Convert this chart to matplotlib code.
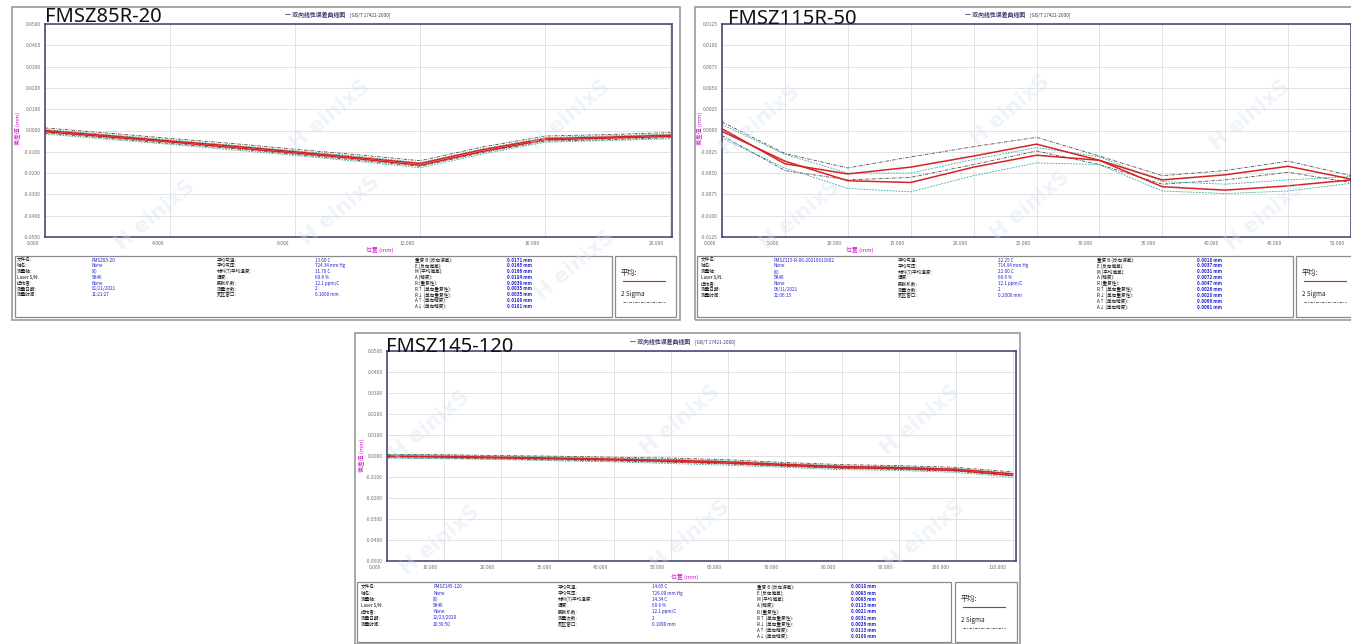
import matplotlib
matplotlib.use('Agg')
import matplotlib.pyplot as plt
from matplotlib.patches import Rectangle
from matplotlib.lines import Line2D
from matplotlib.transforms import ScaledTranslation

plt.rcParams['font.family'] = ['Noto Sans CJK SC', 'DejaVu Sans']

W, H = 1351, 644
fig = plt.figure(figsize=(W / 100, H / 100), dpi=100)
fig.patch.set_facecolor('white')


def fx(px):
    return px / W


def fy(py):
    return 1 - py / H


# ---------------- data ----------------
names = ['FMSZ85R-20', 'FMSZ115R-50', 'FMSZ145-120']
chart_title = '一 双向线性误差曲线图'
chart_std = '[GB/T 17421-2000]'
x_label = '位置 (mm)'
y_label = '偏差值 (mm)'

# chart 1
x1 = [0, 2, 4, 6, 8, 10, 12, 14, 16, 18, 20]
fwd1 = [0.0000, -0.0024, -0.0049, -0.0073, -0.0100, -0.0127, -0.0155, -0.0090, -0.0038, -0.0031, -0.0022]
rev1 = [-0.0006, -0.0030, -0.0054, -0.0080, -0.0106, -0.0133, -0.0163, -0.0098, -0.0044, -0.0036, -0.0028]
fwd1_hi = [0.0012, -0.0012, -0.0037, -0.0061, -0.0088, -0.0114, -0.0142, -0.0077, -0.0026, -0.0019, -0.0010]
fwd1_lo = [-0.0012, -0.0036, -0.0061, -0.0085, -0.0112, -0.0140, -0.0168, -0.0103, -0.0050, -0.0043, -0.0034]
rev1_hi = [0.0005, -0.0019, -0.0043, -0.0069, -0.0095, -0.0121, -0.0151, -0.0086, -0.0033, -0.0025, -0.0017]
rev1_lo = [-0.0017, -0.0041, -0.0065, -0.0091, -0.0117, -0.0145, -0.0175, -0.0110, -0.0055, -0.0047, -0.0039]
xt1 = [0, 4, 8, 12, 16, 20]
yt1 = [0.05, 0.04, 0.03, 0.02, 0.01, 0.0, -0.01, -0.02, -0.03, -0.04, -0.05]

# chart 2
x2 = [0, 5, 10, 15, 20, 25, 30, 35, 40, 45, 50]
fwd2 = [0.0002, -0.0039, -0.0051, -0.0043, -0.0030, -0.0016, -0.0035, -0.0058, -0.0052, -0.0042, -0.0057]
rev2 = [-0.0001, -0.0036, -0.0059, -0.0061, -0.0043, -0.0029, -0.0035, -0.0066, -0.0070, -0.0065, -0.0058]
fwd2_hi = [0.0010, -0.0027, -0.0044, -0.0031, -0.0019, -0.0008, -0.0030, -0.0053, -0.0047, -0.0036, -0.0053]
fwd2_lo = [-0.0006, -0.0047, -0.0058, -0.0055, -0.0040, -0.0024, -0.0040, -0.0063, -0.0058, -0.0049, -0.0061]
rev2_hi = [0.0007, -0.0028, -0.0050, -0.0050, -0.0034, -0.0020, -0.0031, -0.0060, -0.0063, -0.0058, -0.0054]
rev2_lo = [-0.0009, -0.0044, -0.0068, -0.0072, -0.0053, -0.0038, -0.0040, -0.0071, -0.0074, -0.0071, -0.0062]
xt2 = [0, 5, 10, 15, 20, 25, 30, 35, 40, 45, 50]
yt2 = [0.0125, 0.0100, 0.0075, 0.0050, 0.0025, 0.0, -0.0025, -0.0050, -0.0075, -0.0100, -0.0125]

# chart 3
x3 = [0, 10, 20, 30, 40, 50, 60, 70, 80, 90, 100, 110]
fwd3 = [0.0000, -0.0002, -0.0006, -0.0010, -0.0015, -0.0020, -0.0028, -0.0040, -0.0050, -0.0055, -0.0063, -0.0085]
rev3 = [-0.0002, -0.0005, -0.0009, -0.0014, -0.0019, -0.0026, -0.0034, -0.0045, -0.0056, -0.0060, -0.0069, -0.0092]
fwd3_hi = [0.0008, 0.0006, 0.0002, -0.0001, -0.0006, -0.0010, -0.0018, -0.0031, -0.0041, -0.0046, -0.0054, -0.0076]
fwd3_lo = [-0.0008, -0.0010, -0.0014, -0.0019, -0.0024, -0.0030, -0.0038, -0.0049, -0.0059, -0.0064, -0.0072, -0.0094]
rev3_hi = [0.0006, 0.0003, -0.0001, -0.0005, -0.0010, -0.0016, -0.0024, -0.0036, -0.0047, -0.0051, -0.0060, -0.0083]
rev3_lo = [-0.0010, -0.0013, -0.0017, -0.0023, -0.0028, -0.0036, -0.0044, -0.0054, -0.0065, -0.0069, -0.0078, -0.0101]
xt3 = [0, 10, 20, 30, 40, 50, 60, 70, 80, 90, 100, 110]
yt3 = [0.05, 0.04, 0.03, 0.02, 0.01, 0.0, -0.01, -0.02, -0.03, -0.04, -0.05]

# info panels
info_lab1 = ['文件名:', '轴名:', '测量轴:', 'Laser S/N:', '操作者:', '测量日期:', '测量时间:']
info_lab2 = ['平均气温:', '平均气压:', '材料(T)平均温度:', '湿度:', '膨胀系数:', '测量次数:', '死区窗口:']
info_lab3 = ['重复 B (反向误差):', 'E (反向偏差):', 'M (平均偏差):', 'A (精度):', 'R (重复性):',
             'R↑ (单向重复性):', 'R↓ (单向重复性):', 'A↑ (单向精度):', 'A↓ (单向精度):']
info_val1 = [
    ['FMSZ85-20', 'None', '(X)', '5K46', 'None', '01/21/2021', '11:21:27'],
    ['FMSZ115-R-06-20210611602', 'None', '(X)', '5K46', 'None', '06/11/2021', '21:06:13'],
    ['FMSZ145-120', 'None', '(X)', '5K46', 'None', '12/23/2020', '10:39:50'],
]
info_val2 = [
    ['13.60 C', '724.34 mm Hg', '11.70 C', '60.6 %', '12.1 ppm/C', '2', '0.1000 mm'],
    ['22.25 C', '714.94 mm Hg', '22.00 C', '60.6 %', '12.1 ppm/C', '2', '0.2000 mm'],
    ['14.65 C', '726.00 mm Hg', '14.34 C', '60.6 %', '12.1 ppm/C', '2', '0.1000 mm'],
]
info_val3 = [
    ['0.0171 mm', '0.0165 mm', '0.0166 mm', '0.0184 mm', '0.0039 mm', '0.0035 mm', '0.0035 mm', '0.0180 mm', '0.0181 mm'],
    ['0.0018 mm', '0.0037 mm', '0.0031 mm', '0.0072 mm', '0.0047 mm', '0.0026 mm', '0.0028 mm', '0.0066 mm', '0.0061 mm'],
    ['0.0018 mm', '0.0093 mm', '0.0093 mm', '0.0113 mm', '0.0021 mm', '0.0031 mm', '0.0026 mm', '0.0113 mm', '0.0100 mm'],
]
legend_mean = '平均:'
legend_sigma = '2 Sigma'

# ---------------- layout (pixels) ----------------
panels = [
    dict(box=(12, 7, 680, 320), ax=(45, 24, 672, 237), xlim=(0, 20.05), ylim=(-0.05, 0.05),
         x=x1, ser=(fwd1, rev1, fwd1_hi, fwd1_lo, rev1_hi, rev1_lo), xt=xt1, yt=yt1,
         name_xy=(45, 22), title_xy=(345, 15), xlab_xy=(380, 250), ylab_xy=(18, 128),
         info=(15, 256, 612, 317), leg=(615, 256, 676, 317),
         cols=(17, 92, 217, 315, 415, 507), row0=260, dy=5.8),
    dict(box=(695, 7, 1360, 320), ax=(722, 24, 1351, 237), xlim=(0, 50.0), ylim=(-0.0125, 0.0125),
         x=x2, ser=(fwd2, rev2, fwd2_hi, fwd2_lo, rev2_hi, rev2_lo), xt=xt2, yt=yt2,
         name_xy=(728, 24), title_xy=(1025, 15), xlab_xy=(860, 250), ylab_xy=(700, 128),
         info=(697, 256, 1293, 317), leg=(1296, 256, 1360, 317),
         cols=(701, 774, 898, 998, 1097, 1197), row0=260, dy=5.9),
    dict(box=(355, 333, 1020, 644), ax=(387, 351, 1016, 561), xlim=(0, 110.6), ylim=(-0.05, 0.05),
         x=x3, ser=(fwd3, rev3, fwd3_hi, fwd3_lo, rev3_hi, rev3_lo), xt=xt3, yt=yt3,
         name_xy=(386, 352), title_xy=(690, 342), xlab_xy=(685, 577), ylab_xy=(362, 455),
         info=(357, 582, 951, 642), leg=(955, 582, 1017, 642),
         cols=(361, 433, 558, 652, 757, 851), row0=587, dy=6.2),
]

navy = '#3c3c6e'
magenta = '#cc22cc'
blue = '#2020d0'
red = '#d42424'
grey_dd = '#4a4a4a'
teal = '#2aa6a0'

for i, p in enumerate(panels):
    bx0, by0, bx1, by1 = p['box']
    fig.patches.append(Rectangle((fx(bx0), fy(by1)), fx(bx1 - bx0), (by1 - by0) / H,
                                 transform=fig.transFigure, fill=False, edgecolor='#9a9a9a', lw=1.2))

    l, t, r, b = p['ax']
    ax = fig.add_axes([fx(l), fy(b), fx(r - l), (b - t) / H])
    ax.set_xlim(*p['xlim'])
    ax.set_ylim(*p['ylim'])
    ax.grid(True, color='#e2e2e2', lw=0.7)
    ax.set_axisbelow(True)
    for s in ax.spines.values():
        s.set_color(navy)
        s.set_linewidth(1.1)
    ax.set_xticks(p['xt'])
    ax.set_xticklabels(['%.3f' % v for v in p['xt']], fontsize=3.6, color='#707070', ha='right')
    ax.set_yticks(p['yt'])
    ax.set_yticklabels(['%.4f' % v for v in p['yt']], fontsize=3.6, color='#707070')
    ax.tick_params(length=0, pad=3)
    off = ScaledTranslation(-0.06, 0, fig.dpi_scale_trans)
    for lbl in ax.get_xticklabels():
        lbl.set_transform(lbl.get_transform() + off)

    fwd, rev, fh, fl, rh, rl = p['ser']
    xs = p['x']
    ax.plot(xs, fh, color=grey_dd, lw=0.6, dashes=(4, 1.5, 1, 1.5))
    ax.plot(xs, fl, color=grey_dd, lw=0.6, dashes=(4, 1.5, 1, 1.5))
    ax.plot(xs, rh, color=teal, lw=0.6, dashes=(2, 1.5))
    ax.plot(xs, rl, color=teal, lw=0.6, dashes=(2, 1.5))
    ax.plot(xs, fwd, color=red, lw=1.1)
    ax.plot(xs, rev, color=red, lw=1.1)

    # texts
    fig.text(fx(p['name_xy'][0]), fy(p['name_xy'][1]), names[i], fontsize=14.5,
             family=['Noto Sans', 'DejaVu Sans'], color='#111111', ha='left', va='baseline')
    fig.text(fx(p['title_xy'][0]), fy(p['title_xy'][1]), chart_title, fontsize=4.2, color=navy,
             ha='right', va='center', weight='bold')
    fig.text(fx(p['title_xy'][0] + 5), fy(p['title_xy'][1]), chart_std, fontsize=3.4, color=navy,
             ha='left', va='center')
    fig.text(fx(p['xlab_xy'][0]), fy(p['xlab_xy'][1]), x_label, fontsize=4.2, color=magenta,
             ha='center', va='center')
    fig.text(fx(p['ylab_xy'][0]), fy(p['ylab_xy'][1]), y_label, fontsize=4.2, color=magenta,
             ha='center', va='center', rotation=90)

    # info panel
    il, it, ir, ib = p['info']
    fig.patches.append(Rectangle((fx(il), fy(ib)), fx(ir - il), (ib - it) / H,
                                 transform=fig.transFigure, fill=False, edgecolor='#8a8a8a', lw=0.9))
    gl, gt, gr, gb = p['leg']
    fig.patches.append(Rectangle((fx(gl), fy(gb)), fx(gr - gl), (gb - gt) / H,
                                 transform=fig.transFigure, fill=False, edgecolor='#8a8a8a', lw=0.9))
    c = p['cols']
    for k in range(7):
        yy = fy(p['row0'] + k * p['dy'])
        fig.text(fx(c[0]), yy, info_lab1[k], fontsize=3.3, color='#111111', va='center')
        fig.text(fx(c[1]), yy, info_val1[i][k], fontsize=3.3, color=blue, va='center')
        fig.text(fx(c[2]), yy, info_lab2[k], fontsize=3.3, color='#111111', va='center')
        fig.text(fx(c[3]), yy, info_val2[i][k], fontsize=3.3, color=blue, va='center')
    for k in range(9):
        yy = fy(p['row0'] + k * p['dy'])
        fig.text(fx(c[4]), yy, info_lab3[k], fontsize=3.3, color='#111111', va='center')
        fig.text(fx(c[5]), yy, info_val3[i][k], fontsize=3.3, color=blue, va='center',
                 weight='bold')

    # legend box
    lx = gl + 6
    ly = gt + (gb - gt) * 0.28
    fig.text(fx(lx), fy(ly), legend_mean, fontsize=5.2, color='#222222', va='center')
    fig.lines.append(Line2D([fx(lx + 2), fx(lx + 44)], [fy(ly + 8), fy(ly + 8)],
                            transform=fig.transFigure, color=red, lw=0.8))
    fig.text(fx(lx), fy(ly + 21), legend_sigma, fontsize=4.6, color='#222222', va='center')
    fig.lines.append(Line2D([fx(lx + 2), fx(lx + 44)], [fy(ly + 29), fy(ly + 29)],
                            transform=fig.transFigure, color=grey_dd, lw=0.6, dashes=(3, 1.5, 1, 1.5)))

# watermarks
wm = [(330, 115), (570, 115), (155, 215), (340, 210), (575, 265),
      (760, 120), (1010, 110), (1250, 115), (800, 215), (1030, 205), (1265, 215),
      (430, 425), (680, 420), (920, 420), (440, 540), (690, 535), (925, 535)]
for (wx, wy) in wm:
    fig.text(fx(wx), fy(wy), 'H einixS', fontsize=15, color='#cfe0ef', alpha=0.35,
             rotation=40, ha='center', va='center', weight='bold',
             family=['DejaVu Sans'], zorder=10)

fig.savefig('out.png', dpi=100)
